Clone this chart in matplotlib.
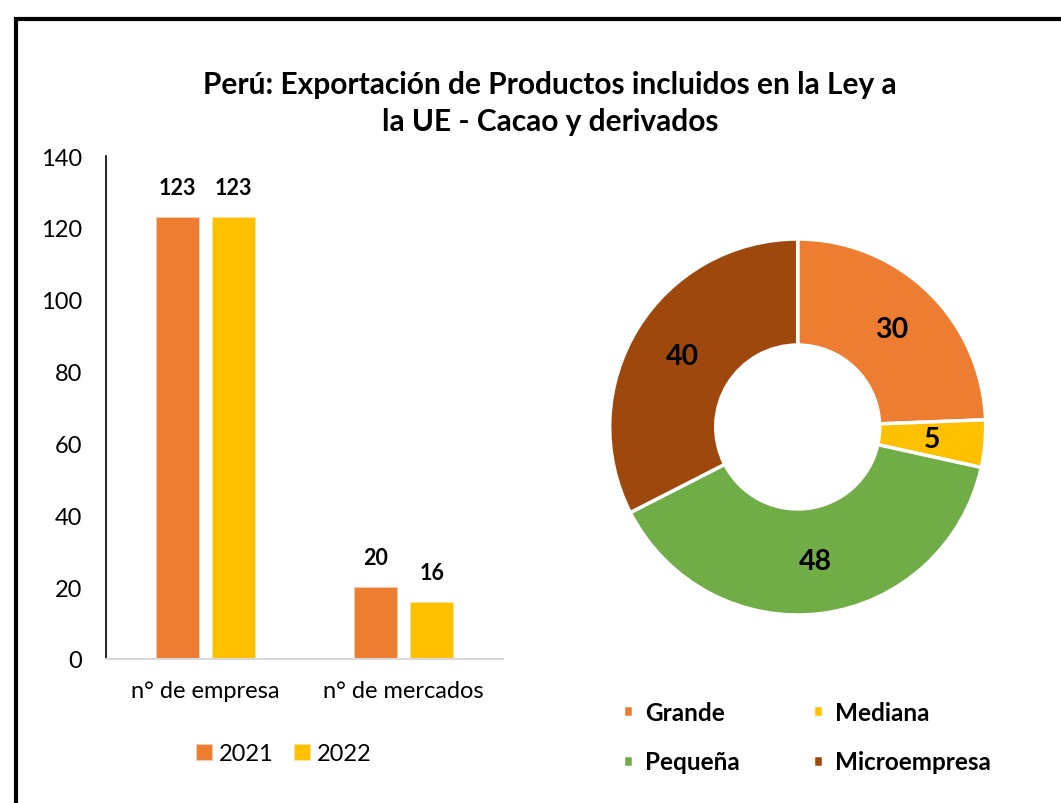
import matplotlib.pyplot as plt
from matplotlib.patches import Rectangle
import numpy as np

plt.rcParams['font.family'] = ['Lato', 'DejaVu Sans']

# bar chart data
categories = ["n° de empresa", "n° de mercados"]
years = ["2021", "2022"]
values_2021 = [123, 20]
values_2022 = [123, 16]

# donut data
segments = ["Grande", "Mediana", "Pequeña", "Microempresa"]
segment_values = [30, 5, 48, 40]

orange = "#ED7D31"
yellow = "#FFC000"
green = "#70AD47"
brown = "#9E480E"

W, H = 1061, 804
fig = plt.figure(figsize=(W / 100, H / 100), dpi=100)

def fx(px):
    return px / W

def fy(py):
    return 1 - py / H

# outer frame (cut by the image on the right and bottom)
fig.patches.append(Rectangle((fx(16), -0.2), 1.5, fy(19.5) + 0.2, transform=fig.transFigure,
                             fill=False, edgecolor="black", linewidth=3, clip_on=False))

fig.text(fx(550), fy(85), "Perú: Exportación de Productos incluidos en la Ley a",
         ha="center", va="center", fontsize=21.5, fontweight="bold")
fig.text(fx(550), fy(122), "la UE - Cacao y derivados",
         ha="center", va="center", fontsize=21.5, fontweight="bold")

# ---- bars
ax = fig.add_axes([fx(106), fy(660), fx(503) - fx(106), fy(157) - fy(660)])
x = np.arange(len(categories))
w = 0.217
off = 0.142
b1 = ax.bar(x - off, values_2021, w, color=orange, edgecolor="#F8CBAD", linewidth=0.6, label=years[0])
b2 = ax.bar(x + off, values_2022, w, color=yellow, edgecolor="#FFE699", linewidth=0.6, label=years[1])
for bars, vals in ((b1, values_2021), (b2, values_2022)):
    for rect, v in zip(bars, vals):
        ax.annotate(str(v), (rect.get_x() + rect.get_width() / 2, v), xytext=(0, 21),
                    textcoords="offset points", ha="center", va="center",
                    fontsize=15.5, fontweight="bold")
ax.set_xlim(-0.5, 1.5)
ax.set_ylim(0, 140)
ax.set_yticks(range(0, 141, 20))
ax.set_xticks(x)
ax.set_xticklabels(categories)
ax.tick_params(axis="both", length=0, labelsize=17)
ax.tick_params(axis="y", pad=17)
ax.tick_params(axis="x", pad=15)
for s in ("top", "right"):
    ax.spines[s].set_visible(False)
ax.spines["left"].set_color("black")
ax.spines["left"].set_linewidth(1.2)
ax.spines["bottom"].set_color("#D9D9D9")
ax.spines["bottom"].set_linewidth(1.5)

fig.legend(handles=[b1, b2], labels=years, ncol=2, loc="center",
           bbox_to_anchor=(fx(284), fy(755)), frameon=False, fontsize=17,
           handlelength=0.68, handleheight=0.68, handletextpad=0.3, columnspacing=0.85)

# ---- donut
R = 188
cx, cy = 797.7, 428
ax2 = fig.add_axes([fx(cx - R), fy(cy + R), fx(2 * R), 2 * R / H])
colors = [orange, yellow, green, brown]
wedges, _ = ax2.pie(segment_values, colors=colors, startangle=90, counterclock=False,
                    radius=1.0, wedgeprops=dict(width=0.564, edgecolor="white", linewidth=2.5))
total = sum(segment_values)
ang = 90.0
for v in segment_values:
    span = 360.0 * v / total
    mid = np.deg2rad(ang - span / 2)
    ang -= span
    r = 0.72
    ax2.text(r * np.cos(mid), r * np.sin(mid), str(v), ha="center", va="center",
             fontsize=20.5, fontweight="bold")
ax2.set_xlim(-1, 1)
ax2.set_ylim(-1, 1)
ax2.set_aspect("equal")
ax2.axis("off")

order = [0, 2, 1, 3]
fig.legend(handles=[wedges[i] for i in order], labels=[segments[i] for i in order],
           ncol=2, loc="center", bbox_to_anchor=(fx(807), fy(738)), frameon=False,
           prop=dict(size=17.5, weight="bold"), handlelength=0.4, handleheight=0.4,
           handletextpad=0.5, columnspacing=3.0, labelspacing=1.1)

fig.savefig("out.png", dpi=100)
